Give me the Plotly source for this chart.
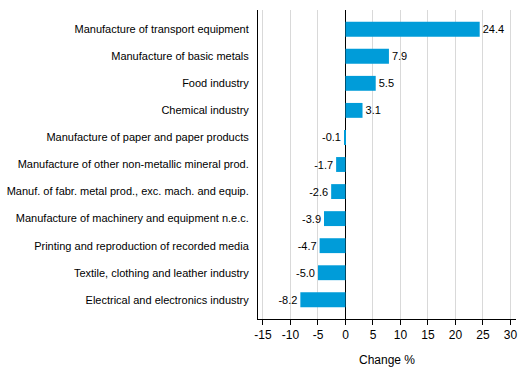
import plotly.graph_objects as go

categories = [
    "Manufacture of transport equipment",
    "Manufacture of basic metals",
    "Food industry",
    "Chemical industry",
    "Manufacture of paper and paper products",
    "Manufacture of other non-metallic mineral prod.",
    "Manuf. of fabr. metal prod., exc. mach. and equip.",
    "Manufacture of machinery and equipment n.e.c.",
    "Printing and reproduction of recorded media",
    "Textile, clothing and leather industry",
    "Electrical and electronics industry",
]
values = [24.4, 7.9, 5.5, 3.1, -0.1, -1.7, -2.6, -3.9, -4.7, -5.0, -8.2]
x_ticks = [-15, -10, -5, 0, 5, 10, 15, 20, 25, 30]

font = "Liberation Sans, Arial, sans-serif"

fig = go.Figure(go.Bar(
    y=categories,
    x=values,
    orientation="h",
    marker=dict(color="#009cd9", line=dict(width=0)),
    width=0.55,
    text=[f"{v:.1f}" for v in values],
    textposition="outside",
    textfont=dict(family=font, size=11, color="#000000"),
    cliponaxis=False,
))

fig.update_layout(
    width=529, height=378,
    margin=dict(l=258, r=13, t=10, b=59, autoexpand=False),
    paper_bgcolor="white", plot_bgcolor="white",
    font=dict(family=font, size=11, color="#000000"),
    showlegend=False,
    xaxis=dict(
        range=[-15.9, 31.0],
        tickvals=x_ticks,
        ticktext=[str(t) for t in x_ticks],
        tickfont=dict(family=font, size=12),
        showgrid=True, gridcolor="#d9d9d9", gridwidth=1,
        zeroline=True, zerolinecolor="#000000", zerolinewidth=1,
        showline=True, linecolor="#000000", linewidth=1,
        ticks="outside", ticklen=5, tickcolor="#000000",
        title=dict(text="Change %", font=dict(family=font, size=12), standoff=14),
        automargin=False,
        fixedrange=True,
    ),
    yaxis=dict(
        range=[10.71, -0.71],
        showgrid=False,
        showline=True, linecolor="#000000", linewidth=1,
        ticks="", ticklabelstandoff=6,
        automargin=False,
        fixedrange=True,
    ),
)

fig.write_html(
    "out.html",
    config={"displayModeBar": False},
    post_script="document.body.style.margin='0';document.body.style.overflow='hidden';",
)
